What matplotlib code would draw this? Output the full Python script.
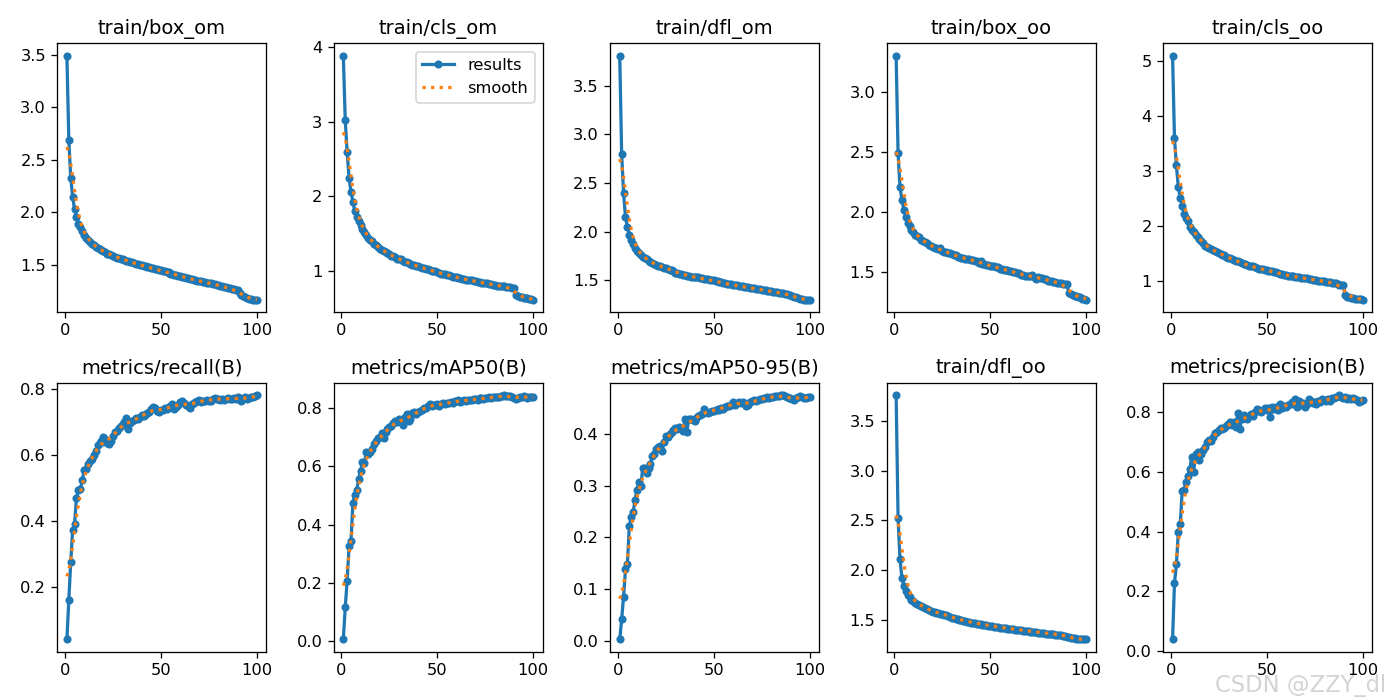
import numpy as np
import matplotlib
matplotlib.use("Agg")
from matplotlib import pyplot as plt
from matplotlib.ticker import MaxNLocator

epochs = np.arange(1, 101)

titles = ['train/box_om', 'train/cls_om', 'train/dfl_om', 'train/box_oo', 'train/cls_oo',
          'metrics/recall(B)', 'metrics/mAP50(B)', 'metrics/mAP50-95(B)', 'train/dfl_oo',
          'metrics/precision(B)']

box_om = [3.49, 2.69, 2.33, 2.15, 2.03, 1.96, 1.89, 1.86, 1.82, 1.79,
          1.76, 1.74, 1.72, 1.70, 1.69, 1.67, 1.66, 1.65, 1.64, 1.63,
          1.62, 1.61, 1.61, 1.60, 1.59, 1.58, 1.57, 1.57, 1.56, 1.56,
          1.55, 1.54, 1.54, 1.53, 1.53, 1.52, 1.51, 1.51, 1.50, 1.50,
          1.49, 1.49, 1.48, 1.48, 1.47, 1.47, 1.46, 1.46, 1.45, 1.45,
          1.44, 1.44, 1.43, 1.43, 1.42, 1.42, 1.41, 1.41, 1.40, 1.40,
          1.39, 1.39, 1.38, 1.38, 1.37, 1.37, 1.36, 1.36, 1.35, 1.35,
          1.35, 1.34, 1.34, 1.33, 1.33, 1.33, 1.32, 1.32, 1.31, 1.31,
          1.30, 1.30, 1.29, 1.29, 1.28, 1.28, 1.27, 1.27, 1.26, 1.26,
          1.24, 1.22, 1.21, 1.20, 1.19, 1.18, 1.18, 1.17, 1.17, 1.17]

cls_om = [3.88, 3.02, 2.59, 2.25, 2.06, 1.93, 1.80, 1.73, 1.67, 1.62,
          1.56, 1.52, 1.48, 1.45, 1.42, 1.40, 1.37, 1.35, 1.32, 1.30,
          1.29, 1.27, 1.26, 1.24, 1.23, 1.21, 1.20, 1.19, 1.17, 1.17,
          1.16, 1.14, 1.13, 1.12, 1.11, 1.10, 1.09, 1.08, 1.07, 1.07,
          1.06, 1.05, 1.04, 1.03, 1.03, 1.02, 1.01, 1.00, 1.00, 0.99,
          0.98, 0.97, 0.97, 0.96, 0.95, 0.95, 0.94, 0.93, 0.93, 0.92,
          0.91, 0.91, 0.90, 0.90, 0.89, 0.89, 0.88, 0.88, 0.87, 0.87,
          0.86, 0.86, 0.85, 0.85, 0.84, 0.84, 0.83, 0.83, 0.82, 0.82,
          0.81, 0.81, 0.81, 0.80, 0.80, 0.79, 0.79, 0.79, 0.78, 0.78,
          0.68, 0.67, 0.66, 0.66, 0.65, 0.64, 0.64, 0.63, 0.63, 0.62]

dfl_om = [3.81, 2.80, 2.40, 2.15, 2.05, 1.97, 1.92, 1.87, 1.83, 1.80,
          1.78, 1.76, 1.74, 1.73, 1.72, 1.70, 1.69, 1.68, 1.67, 1.66,
          1.65, 1.65, 1.64, 1.63, 1.63, 1.62, 1.61, 1.61, 1.60, 1.58,
          1.58, 1.57, 1.57, 1.56, 1.56, 1.55, 1.55, 1.54, 1.54, 1.53,
          1.53, 1.53, 1.52, 1.52, 1.51, 1.51, 1.51, 1.50, 1.50, 1.50,
          1.49, 1.49, 1.48, 1.48, 1.47, 1.47, 1.46, 1.46, 1.46, 1.45,
          1.45, 1.45, 1.44, 1.44, 1.44, 1.43, 1.43, 1.43, 1.42, 1.42,
          1.42, 1.41, 1.41, 1.41, 1.40, 1.40, 1.40, 1.39, 1.39, 1.39,
          1.38, 1.38, 1.38, 1.37, 1.37, 1.37, 1.36, 1.36, 1.35, 1.35,
          1.34, 1.33, 1.33, 1.32, 1.31, 1.31, 1.30, 1.30, 1.30, 1.30]

box_oo = [3.30, 2.49, 2.21, 2.10, 2.02, 1.96, 1.91, 1.88, 1.85, 1.83,
          1.81, 1.80, 1.79, 1.77, 1.76, 1.75, 1.74, 1.73, 1.72, 1.71,
          1.70, 1.70, 1.69, 1.70, 1.68, 1.67, 1.67, 1.66, 1.66, 1.65,
          1.64, 1.64, 1.63, 1.63, 1.62, 1.62, 1.61, 1.61, 1.61, 1.60,
          1.60, 1.59, 1.59, 1.58, 1.59, 1.57, 1.57, 1.56, 1.56, 1.55,
          1.55, 1.55, 1.54, 1.54, 1.53, 1.53, 1.52, 1.52, 1.52, 1.51,
          1.51, 1.50, 1.50, 1.49, 1.49, 1.48, 1.48, 1.47, 1.47, 1.47,
          1.47, 1.48, 1.46, 1.44, 1.46, 1.45, 1.45, 1.44, 1.44, 1.43,
          1.43, 1.43, 1.42, 1.42, 1.41, 1.41, 1.41, 1.40, 1.40, 1.40,
          1.33, 1.32, 1.31, 1.30, 1.30, 1.29, 1.29, 1.28, 1.28, 1.27]

cls_oo = [5.10, 3.59, 3.10, 2.71, 2.51, 2.36, 2.21, 2.15, 2.09, 1.98,
          1.93, 1.88, 1.83, 1.79, 1.75, 1.72, 1.68, 1.64, 1.61, 1.60,
          1.57, 1.56, 1.54, 1.52, 1.51, 1.49, 1.47, 1.46, 1.44, 1.42,
          1.41, 1.39, 1.38, 1.36, 1.35, 1.34, 1.32, 1.31, 1.30, 1.28,
          1.27, 1.26, 1.26, 1.24, 1.23, 1.22, 1.22, 1.21, 1.20, 1.19,
          1.18, 1.17, 1.17, 1.16, 1.15, 1.14, 1.13, 1.12, 1.11, 1.10,
          1.09, 1.09, 1.08, 1.08, 1.07, 1.07, 1.06, 1.05, 1.05, 1.04,
          1.04, 1.03, 1.03, 1.02, 1.02, 1.01, 1.00, 1.00, 0.99, 0.99,
          0.98, 0.97, 0.97, 0.96, 0.95, 0.95, 0.94, 0.93, 0.92, 0.92,
          0.73, 0.71, 0.70, 0.69, 0.68, 0.67, 0.67, 0.66, 0.66, 0.65]

recall = [0.040, 0.160, 0.274, 0.373, 0.390, 0.470, 0.492, 0.495, 0.522, 0.552,
          0.556, 0.572, 0.580, 0.588, 0.600, 0.612, 0.628, 0.634, 0.640, 0.652,
          0.648, 0.634, 0.632, 0.640, 0.655, 0.668, 0.672, 0.680, 0.688, 0.692,
          0.700, 0.712, 0.678, 0.695, 0.702, 0.706, 0.712, 0.708, 0.714, 0.720,
          0.718, 0.722, 0.726, 0.730, 0.738, 0.745, 0.740, 0.732, 0.728, 0.734,
          0.736, 0.740, 0.738, 0.744, 0.748, 0.752, 0.738, 0.745, 0.750, 0.760,
          0.762, 0.756, 0.750, 0.748, 0.742, 0.752, 0.756, 0.758, 0.762, 0.766,
          0.760, 0.762, 0.764, 0.766, 0.762, 0.764, 0.768, 0.772, 0.770, 0.768,
          0.766, 0.768, 0.766, 0.770, 0.772, 0.768, 0.770, 0.772, 0.770, 0.774,
          0.772, 0.762, 0.770, 0.776, 0.768, 0.772, 0.776, 0.774, 0.778, 0.780]

map50 = [0.006, 0.116, 0.208, 0.325, 0.344, 0.473, 0.500, 0.518, 0.556, 0.585,
         0.615, 0.612, 0.647, 0.640, 0.648, 0.660, 0.675, 0.685, 0.695, 0.700,
         0.712, 0.695, 0.718, 0.726, 0.733, 0.738, 0.748, 0.755, 0.752, 0.760,
         0.758, 0.740, 0.768, 0.778, 0.755, 0.760, 0.782, 0.786, 0.780, 0.785,
         0.790, 0.794, 0.798, 0.800, 0.807, 0.812, 0.805, 0.808, 0.810, 0.812,
         0.806, 0.812, 0.815, 0.814, 0.816, 0.818, 0.820, 0.815, 0.822, 0.824,
         0.828, 0.820, 0.822, 0.826, 0.824, 0.826, 0.828, 0.826, 0.830, 0.830,
         0.828, 0.832, 0.834, 0.830, 0.832, 0.834, 0.836, 0.834, 0.836, 0.838,
         0.836, 0.838, 0.840, 0.840, 0.843, 0.842, 0.840, 0.842, 0.836, 0.832,
         0.830, 0.834, 0.836, 0.838, 0.840, 0.836, 0.834, 0.836, 0.838, 0.838]

map50_95 = [0.002, 0.041, 0.085, 0.138, 0.149, 0.223, 0.239, 0.249, 0.273, 0.293,
            0.307, 0.300, 0.335, 0.335, 0.326, 0.335, 0.342, 0.359, 0.362, 0.372,
            0.375, 0.378, 0.368, 0.385, 0.397, 0.395, 0.400, 0.404, 0.408, 0.412,
            0.410, 0.414, 0.412, 0.407, 0.430, 0.405, 0.430, 0.430, 0.428, 0.426,
            0.432, 0.435, 0.438, 0.440, 0.449, 0.444, 0.442, 0.444, 0.446, 0.446,
            0.448, 0.450, 0.447, 0.452, 0.450, 0.454, 0.456, 0.455, 0.458, 0.462,
            0.458, 0.460, 0.462, 0.460, 0.462, 0.460, 0.456, 0.457, 0.462, 0.465,
            0.466, 0.464, 0.466, 0.468, 0.468, 0.470, 0.470, 0.472, 0.471, 0.473,
            0.472, 0.474, 0.474, 0.475, 0.476, 0.476, 0.474, 0.472, 0.470, 0.470,
            0.468, 0.467, 0.470, 0.472, 0.474, 0.472, 0.470, 0.471, 0.472, 0.472]

dfl_oo = [3.76, 2.52, 2.11, 1.92, 1.84, 1.79, 1.75, 1.73, 1.70, 1.69,
          1.67, 1.66, 1.65, 1.64, 1.63, 1.62, 1.61, 1.60, 1.59, 1.58,
          1.58, 1.57, 1.57, 1.56, 1.56, 1.55, 1.55, 1.54, 1.53, 1.52,
          1.52, 1.51, 1.51, 1.50, 1.50, 1.49, 1.49, 1.48, 1.48, 1.47,
          1.47, 1.47, 1.46, 1.46, 1.46, 1.45, 1.45, 1.45, 1.44, 1.44,
          1.44, 1.43, 1.43, 1.43, 1.42, 1.42, 1.42, 1.42, 1.41, 1.41,
          1.41, 1.41, 1.40, 1.40, 1.40, 1.40, 1.39, 1.39, 1.39, 1.39,
          1.38, 1.38, 1.38, 1.38, 1.37, 1.37, 1.37, 1.37, 1.36, 1.36,
          1.36, 1.36, 1.36, 1.35, 1.35, 1.35, 1.35, 1.34, 1.34, 1.33,
          1.33, 1.32, 1.31, 1.31, 1.30, 1.30, 1.30, 1.30, 1.30, 1.30]

precision = [0.039, 0.228, 0.290, 0.400, 0.424, 0.534, 0.540, 0.565, 0.587, 0.610,
             0.650, 0.600, 0.660, 0.665, 0.640, 0.660, 0.672, 0.684, 0.700, 0.705,
             0.702, 0.715, 0.728, 0.734, 0.740, 0.746, 0.742, 0.748, 0.752, 0.760,
             0.766, 0.758, 0.765, 0.750, 0.797, 0.744, 0.775, 0.790, 0.782, 0.778,
             0.786, 0.792, 0.788, 0.800, 0.810, 0.805, 0.800, 0.808, 0.812, 0.806,
             0.812, 0.783, 0.815, 0.810, 0.818, 0.806, 0.828, 0.812, 0.820, 0.818,
             0.822, 0.826, 0.832, 0.828, 0.842, 0.818, 0.836, 0.824, 0.830, 0.818,
             0.828, 0.845, 0.836, 0.830, 0.832, 0.828, 0.836, 0.834, 0.842, 0.840,
             0.836, 0.842, 0.838, 0.846, 0.848, 0.850, 0.852, 0.856, 0.850, 0.847,
             0.850, 0.845, 0.846, 0.842, 0.848, 0.844, 0.840, 0.835, 0.838, 0.840]

series = [box_om, cls_om, dfl_om, box_oo, cls_oo,
          recall, map50, map50_95, dfl_oo, precision]


def gauss_smooth(y, sigma=3):
    # same as scipy gaussian_filter1d (mode='reflect', truncate=4)
    r = int(4 * sigma + 0.5)
    k = np.arange(-r, r + 1)
    w = np.exp(-0.5 * (k / sigma) ** 2)
    w /= w.sum()
    yp = np.pad(np.asarray(y, dtype=float), r, mode='symmetric')
    return np.convolve(yp, w, mode='valid')


fig, ax = plt.subplots(2, 5, figsize=(12, 6))
fig.subplots_adjust(left=0.041, right=0.980, top=0.938, bottom=0.069,
                    wspace=0.323, hspace=0.264)
ax = ax.ravel()
for i, y in enumerate(series):
    ax[i].plot(epochs, y, marker='.', label='results', linewidth=2, markersize=8)
    ax[i].plot(epochs, gauss_smooth(y), ':', label='smooth', linewidth=2)
    ax[i].set_title(titles[i], fontsize=12)
    ax[i].yaxis.set_major_locator(MaxNLocator(nbins=7, steps=[1, 2, 2.5, 5, 10]))
ax[1].legend()

fig.text(0.99, 0.004, 'CSDN @ZZY_dl', ha='right', va='bottom',
         color='#cfcfcf', fontsize=14, alpha=0.9)

plt.savefig('out.png', dpi=1400 / 12)
